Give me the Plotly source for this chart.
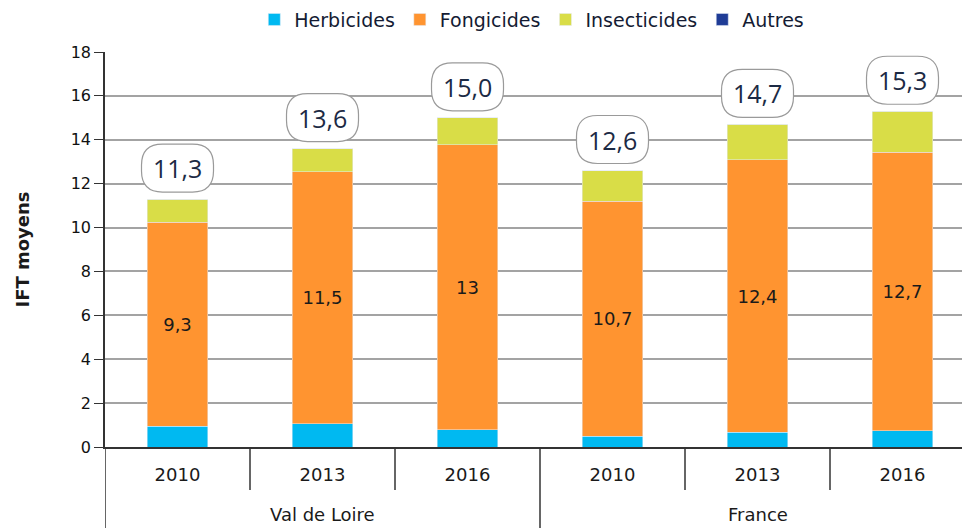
import plotly.graph_objects as go

# Données : IFT moyens par type de produit
regions = ["Val de Loire", "Val de Loire", "Val de Loire", "France", "France", "France"]
annees = ["2010", "2013", "2016", "2010", "2013", "2016"]
herbicides = [0.95, 1.05, 0.78, 0.5, 0.68, 0.73]
fongicides = [9.3, 11.5, 13.0, 10.7, 12.4, 12.7]
insecticides = [1.05, 1.05, 1.22, 1.4, 1.62, 1.87]
autres = [0, 0, 0, 0, 0, 0]
totaux = [11.3, 13.6, 15.0, 12.6, 14.7, 15.3]
etiquettes_fongicides = ["9,3", "11,5", "13", "10,7", "12,4", "12,7"]
etiquettes_totaux = ["11,3", "13,6", "15,0", "12,6", "14,7", "15,3"]

FONT = "DejaVu Sans, Verdana, sans-serif"
cats = [f"{r} {a}" for r, a in zip(regions, annees)]

fig = go.Figure()
fig.add_trace(go.Bar(x=cats, y=herbicides, name="Herbicides", marker_color="#00B9F1"))
fig.add_trace(go.Bar(x=cats, y=fongicides, name="Fongicides", marker_color="#FF9430",
                     text=etiquettes_fongicides, textposition="inside", insidetextanchor="middle",
                     textfont=dict(size=18, color="#1a1a1a", family=FONT), textangle=0))
fig.add_trace(go.Bar(x=cats, y=insecticides, name="Insecticides", marker_color="#D9DD47"))
fig.add_trace(go.Bar(x=cats, y=autres, name="Autres", marker_color="#1F3C96"))

# bulles arrondies avec le total au-dessus de chaque barre
w, h, r, dy = 36, 24, 21, 31
bulle = (f"M {-w + r},{dy - h} L {w - r},{dy - h} Q {w},{dy - h} {w},{dy - h + r} "
         f"L {w},{dy + h - r} Q {w},{dy + h} {w - r},{dy + h} L {-w + r},{dy + h} "
         f"Q {-w},{dy + h} {-w},{dy + h - r} L {-w},{dy - h + r} Q {-w},{dy - h} {-w + r},{dy - h} Z")
for i, (tot, lab) in enumerate(zip(totaux, etiquettes_totaux)):
    fig.add_shape(type="path", xref="x", yref="y", xsizemode="pixel", ysizemode="pixel",
                  xanchor=i, yanchor=tot, path=bulle,
                  line=dict(color="#9a9a9a", width=1.2), fillcolor="white", layer="above")
    fig.add_annotation(x=i, y=tot, text=lab, showarrow=False, yshift=dy, yanchor="middle",
                       font=dict(size=25, color="#1c2a44", family="Open Sans, sans-serif"))

# séparateurs de l'axe des catégories
for i in range(len(cats) + 1):
    groupe = i % 3 == 0
    fig.add_shape(type="line", xref="x", yref="paper", x0=i - 0.5, x1=i - 0.5,
                  y0=0, y1=-0.3 if groupe else -0.109,
                  line=dict(color="#333333", width=1.5))

# libellés des régions
for i in (1, 4):
    fig.add_annotation(x=i, y=-0.172, xref="x", yref="paper", text=regions[i],
                       showarrow=False, yanchor="middle", font=dict(size=18, family=FONT))

fig.update_layout(
    barmode="stack",
    width=970, height=528,
    margin=dict(l=97, r=3, t=44, b=89),
    plot_bgcolor="white", paper_bgcolor="white",
    bargap=0.585,
    font=dict(family=FONT, size=18, color="#1a1a1a"),
    showlegend=True,
    legend=dict(orientation="h", x=0.54, xanchor="center", xref="container",
                y=0.978, yanchor="middle", yref="container",
                font=dict(size=19, color="#141b33"), itemwidth=30, traceorder="normal"),
    yaxis=dict(title=dict(text="<b>IFT moyens</b>", font=dict(size=18), standoff=36),
               range=[0, 18], dtick=2, showgrid=True, gridcolor="#a3a3a3", gridwidth=2,
               showline=True, linecolor="#333333", linewidth=1.5, automargin=False,
               tickfont=dict(size=16, color="#111111"),
               ticks="outside", ticklen=9, tickcolor="#333333", zeroline=False),
    xaxis=dict(showline=True, linecolor="#333333", linewidth=1.5, automargin=False,
               tickvals=cats, ticktext=annees, ticklabelstandoff=11, ticks="",
               tickfont=dict(size=18), range=[-0.5, len(cats) - 0.5]),
)

fig.write_html("out.html")
